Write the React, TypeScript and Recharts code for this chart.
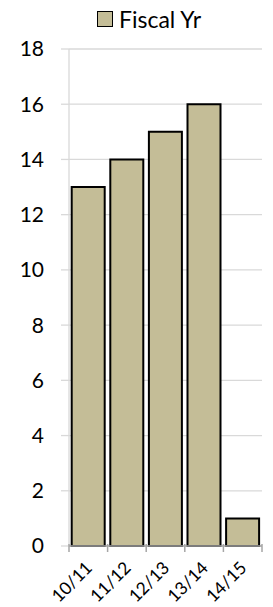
import React from 'react';
import { BarChart, Bar, XAxis, YAxis, CartesianGrid, Legend } from 'recharts';

const categories = ['10/11', '11/12', '12/13', '13/14', '14/15'];
const fiscalYr = [13, 14, 15, 16, 1];
const yTicks = [0, 2, 4, 6, 8, 10, 12, 14, 16, 18];

const data = categories.map((c, i) => ({ name: c, value: fiscalYr[i] }));

const FONT = 'Lato, "Open Sans", sans-serif';

const XTick = (props: any) => {
  const { x, y, payload, index, visibleTicksCount } = props;
  const half = payload && payload.offset ? payload.offset : 19.3;
  const axisY = y - 8;
  const isLast = index === (visibleTicksCount ?? 5) - 1;
  return (
    <g>
      <line x1={x - half} x2={x - half} y1={axisY - 2} y2={axisY + 6} stroke="#a6a6a6" strokeWidth={1.5} />
      {isLast && (
        <line x1={x + half} x2={x + half} y1={axisY - 2} y2={axisY + 6} stroke="#a6a6a6" strokeWidth={1.5} />
      )}
      <g transform={`translate(${x + 5},${y + 15})`}>
        <text x={0} y={0} textAnchor="end" transform="rotate(-45)" fontSize={17.5} fontFamily={FONT} fill="#000">
          {payload.value}
        </text>
      </g>
    </g>
  );
};

const LegendContent = () => (
  <div style={{ display: 'flex', alignItems: 'center', justifyContent: 'center', fontFamily: FONT, fontSize: 23, color: '#000', height: 38 }}>
    <span style={{ display: 'inline-block', width: 14, height: 14, background: '#c4bd97', border: '1.5px solid #000', marginRight: 6, marginLeft: 36 }} />
    <span>Fiscal Yr</span>
  </div>
);

export default function App() {
  return (
    <div style={{ position: 'absolute', left: 0, top: 0 }}>
      <BarChart
        width={273}
        height={607}
        data={data}
        margin={{ top: 11, right: 11, bottom: 0, left: 0 }}
        barCategoryGap="7%"
      >
        <CartesianGrid vertical={false} stroke="#d9d9d9" strokeWidth={1.3} />
        <Legend verticalAlign="top" content={<LegendContent />} wrapperStyle={{ top: 0 }} />
        <YAxis
          domain={[0, 18]}
          ticks={yTicks}
          width={69}
          interval={0}
          axisLine={{ stroke: '#d9d9d9', strokeWidth: 1.3 }}
          tickLine={{ stroke: '#d9d9d9', strokeWidth: 1.3 }}
          tickSize={8}
          tickMargin={17}
          tick={{ fontSize: 21, fontFamily: FONT, fill: '#000' }}
        />
        <XAxis
          dataKey="name"
          interval={0}
          height={61}
          axisLine={{ stroke: '#a6a6a6', strokeWidth: 1.5 }}
          tickLine={false}
          tickSize={6}
          tickMargin={2}
          tick={<XTick />}
        />
        <Bar dataKey="value" fill="#c4bd97" stroke="#000" strokeWidth={2} isAnimationActive={false} />
      </BarChart>
    </div>
  );
}
